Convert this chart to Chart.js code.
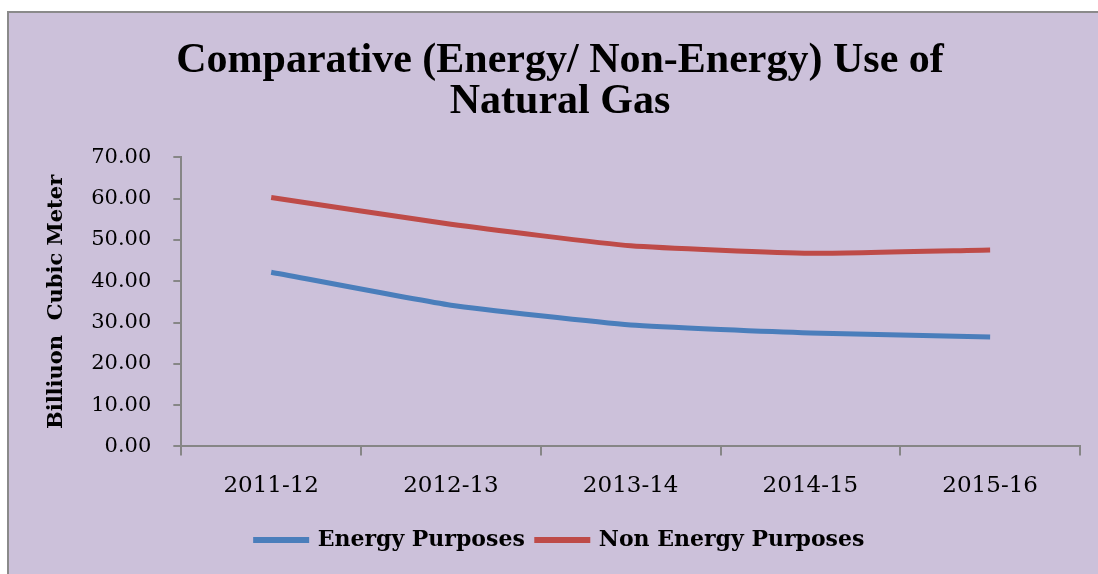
<!DOCTYPE html>
<html>
<head>
<meta charset="utf-8">
<script src="https://cdn.jsdelivr.net/npm/chart.js@4/dist/chart.umd.min.js"></script>
<style>
  body { margin: 0; background: #fff; }
  #box {
    position: absolute; left: 7px; top: 11px;
    width: 1089px; height: 561px;
    background: #ccc1da;
    border-left: 2px solid #8a8a8a;
    border-top: 2px solid #8a8a8a;
  }
</style>
</head>
<body>
<div id="box"><canvas id="gasChart" width="1089" height="561"></canvas></div>
<script>
// years on the x axis
const years = ['2011-12', '2012-13', '2013-14', '2014-15', '2015-16'];
// billion cubic meter
const energyUse = [42.2, 34.2, 29.4, 27.5, 26.5];
const nonEnergyUse = [60.3, 53.8, 48.6, 46.8, 47.6];

const serif = "'DejaVu Serif', serif";
const axisGray = '#868686';

const ctx = document.getElementById('gasChart').getContext('2d');
new Chart(ctx, {
  type: 'line',
  data: {
    labels: years,
    datasets: [{
      label: 'Energy Purposes',
      data: energyUse,
      borderColor: '#4a7ebb',
      backgroundColor: '#4a7ebb',
      borderWidth: 5,
      pointRadius: 0,
      tension: 0.15
    }, {
      label: 'Non Energy Purposes',
      data: nonEnergyUse,
      borderColor: '#be4b48',
      backgroundColor: '#be4b48',
      borderWidth: 5,
      pointRadius: 0,
      tension: 0.15
    }]
  },
  options: {
    responsive: false,
    animation: false,
    layout: { padding: { left: 31, right: 18, top: 0, bottom: 13 } },
    plugins: {
      title: {
        display: true,
        text: ['Comparative (Energy/ Non-Energy) Use of', 'Natural Gas'],
        color: '#000',
        font: { family: "'Liberation Serif', serif", size: 42, weight: 'bold', lineHeight: 0.97 },
        padding: { top: 28, bottom: 35 }
      },
      legend: {
        position: 'bottom',
        labels: {
          color: '#000',
          font: { family: serif, size: 22, weight: 'bold' },
          boxWidth: 51,
          boxHeight: 1,
          padding: 12
        }
      },
      tooltip: { enabled: false }
    },
    scales: {
      x: {
        offset: true,
        grid: { drawOnChartArea: false, offset: true, tickLength: 9, color: axisGray, lineWidth: 2 },
        border: { color: axisGray, width: 2 },
        ticks: { color: '#000', padding: 17, font: { family: serif, size: 23 } }
      },
      y: {
        min: 0,
        max: 70,
        grid: { drawOnChartArea: false, tickLength: 8, color: axisGray, lineWidth: 2 },
        border: { color: axisGray, width: 2 },
        ticks: {
          stepSize: 10,
          color: '#000',
          padding: 22,
          font: { family: serif, size: 21 },
          callback: v => v.toFixed(2)
        },
        title: {
          display: true,
          text: 'Billiuon  Cubic Meter',
          color: '#000',
          font: { family: serif, size: 21, weight: 'bold' },
          padding: { bottom: 0 }
        }
      }
    }
  }
});
</script>
</body>
</html>
